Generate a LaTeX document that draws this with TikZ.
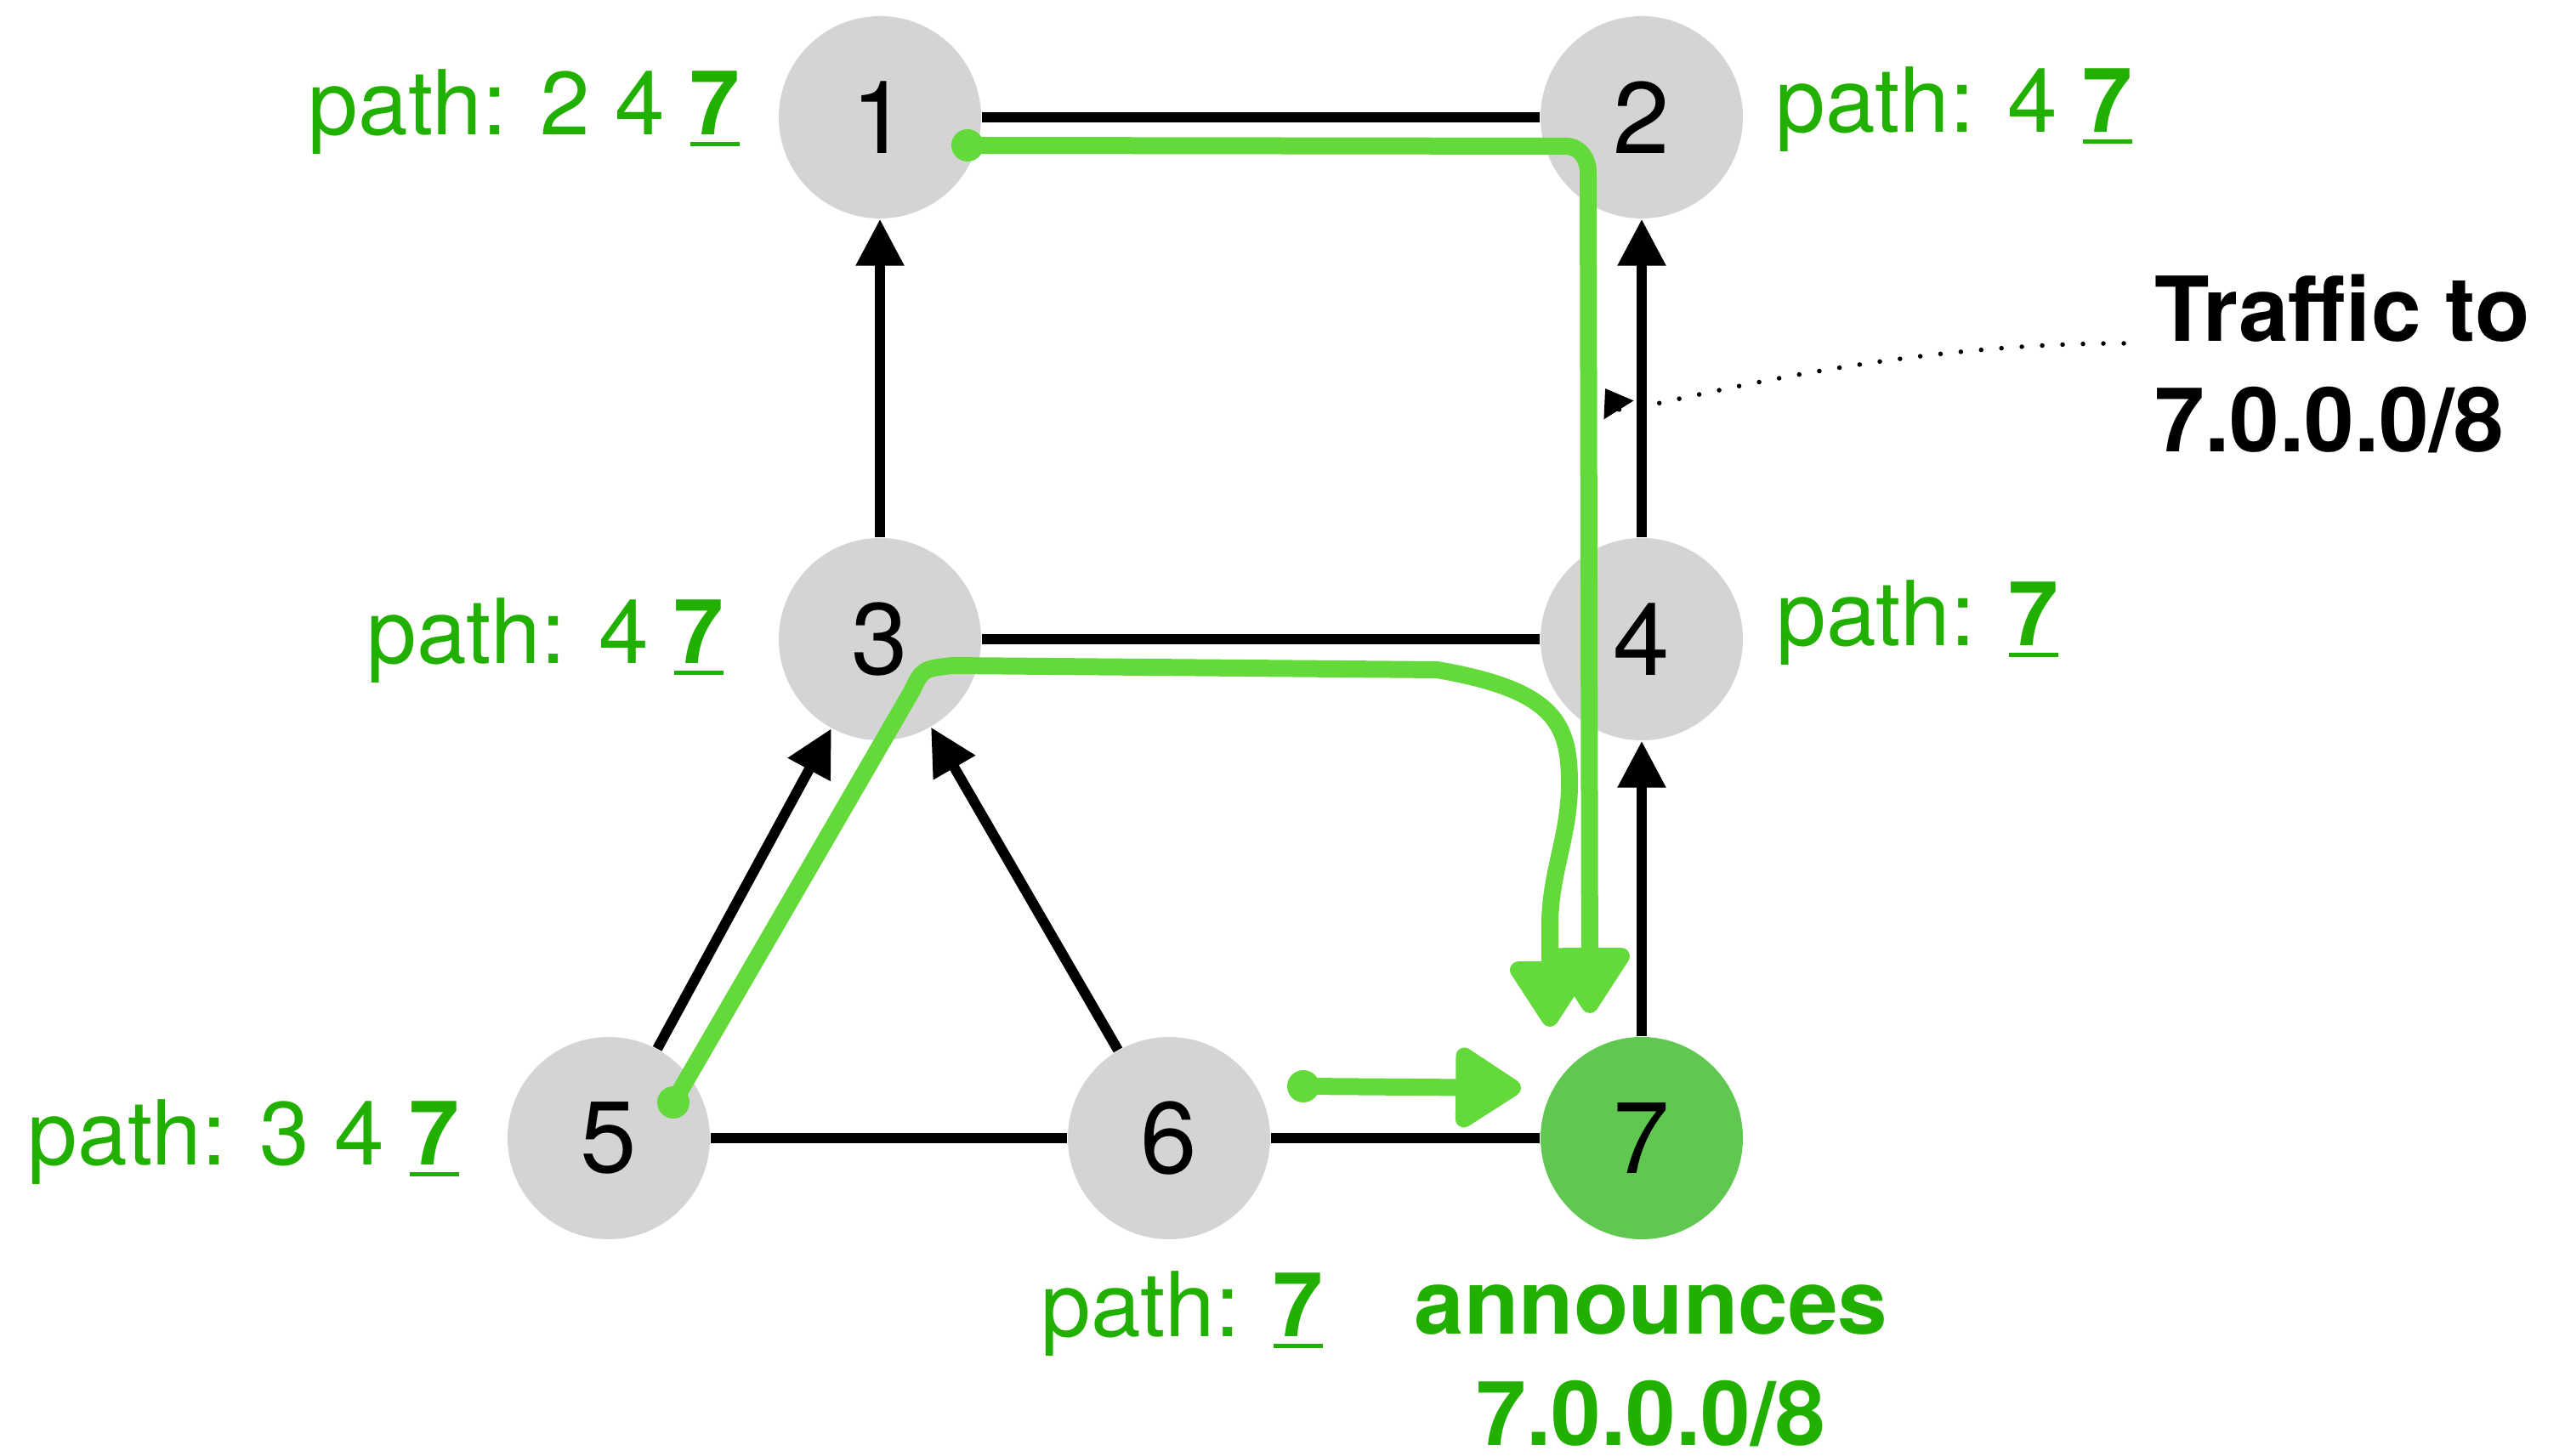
\documentclass[tikz,border=0pt]{standalone}
\usepackage{fontspec}
\setmainfont{TeX Gyre Heros}
\usepackage{tikz}
\usetikzlibrary{arrows.meta, calc}

\definecolor{nodegray}{RGB}{212,212,212}
\definecolor{pathgreen}{RGB}{34,176,0}
\definecolor{announcegreen}{RGB}{96,200,80}
\definecolor{handgreen}{RGB}{99,218,57}

% underlined bold AS number at the end of a path
\newcommand{\destas}[1]{\setbox0=\hbox{\textbf{#1}}\rlap{\rule[-0.13cm]{\wd0}{0.05cm}}\box0}

\begin{document}
\begin{tikzpicture}[
    router/.style={circle, fill=nodegray, minimum size=2.38cm, inner sep=0pt, font=\fontsize{34}{40}\selectfont},
    link/.style={line width=1.2mm},
    route/.style={link, -{Triangle[length=5.5mm, width=5.4mm]}},
    pathlabel/.style={text=pathgreen, inner sep=0pt, font=\fontsize{30}{37}\selectfont},
    annot/.style={inner sep=0pt, font=\fontsize{30}{37}\selectfont\bfseries},
    handdrawn/.style={draw=handgreen, line width=2mm, line cap=round, line join=round,
        -{Triangle[length=8.6mm, width=10.5mm, round]}},
    blob/.style={fill=handgreen}
]
\useasboundingbox (0,0) rectangle (30.17,17.12);

% Routers
\foreach \n/\x/\y in {1/10.35/15.74, 2/19.31/15.74, 3/10.35/9.60, 4/19.31/9.60, 5/7.16/3.73, 6/13.75/3.73}
    \node[router] (r\n) at (\x, \y) {\n};
\node[router, fill=announcegreen] (r7) at (19.31, 3.73) {7};

% Links and route announcements
\foreach \a/\b in {r1/r2, r3/r4, r5/r6, r6/r7}
    \draw[link] (\a) -- (\b);
\foreach \a/\b in {r3/r1, r4/r2, r7/r4, r5/r3, r6/r3}
    \draw[route] (\a) -- (\b);

% AS paths
\node[pathlabel, anchor=base east] (p1) at (8.71, 15.53) {path: 2 4 \destas{7}};
\node[pathlabel, anchor=base west] (p2) at (20.88, 15.56) {path: 4 \destas{7}};
\node[pathlabel, anchor=base east] (p3) at (8.52, 9.31) {path: 4 \destas{7}};
\node[pathlabel, anchor=base west] (p4) at (20.89, 9.52) {path: \destas{7}};
\node[pathlabel, anchor=base east] (p5) at (5.41, 3.41) {path: 3 4 \destas{7}};
\node[pathlabel, anchor=base west] (p6) at (12.24, 1.39) {path: \destas{7}};

% base of a two-line node is the baseline of its last line
\node[annot, text=pathgreen, align=center, anchor=base] (announce) at (19.42, 0.12) {announces\\7.0.0.0/8};
\node[annot, align=left, anchor=base west] (traffic) at (25.34, 11.80) {Traffic to\\7.0.0.0/8};

% Traffic flows
\coordinate (a0) at (11.38, 15.41);
\coordinate (a1) at (18.70, 5.20);
\coordinate (b0) at (7.92, 4.15);
\coordinate (b1) at (18.23, 5.04);
\coordinate (c0) at (15.33, 4.34);
\coordinate (c1) at (17.89, 4.32);

\fill[blob] (a0) circle (1.9mm);
\draw[handdrawn] (a0) -- (18.42, 15.40) to[out=0, in=90] (18.68, 15.10) -- (a1);

\fill[blob] (b0) circle (1.9mm);
\draw[handdrawn] (b0) -- (10.72, 8.98) .. controls (10.85, 9.25) .. (11.20, 9.29)
    -- (16.90, 9.24) .. controls (18.30, 9.00) and (18.46, 8.60) .. (18.46, 7.90)
    .. controls (18.46, 7.30) and (18.25, 6.90) .. (18.23, 6.30) -- (b1);

\fill[blob] (c0) circle (1.9mm);
\draw[handdrawn] (c0) -- (c1);

% Pointer to the traffic
\coordinate (note) at ([xshift=-0.36cm, yshift=1.28cm]traffic.base west);
\coordinate (flow) at (18.88, 12.55);
\draw[line width=0.55mm, line cap=round, dash pattern=on 0pt off 2.4mm, -{Triangle[length=3mm, width=4mm]}]
    (note) .. controls (21.8, 13.08) and (19.1, 12.2) .. (flow);

\end{tikzpicture}
\end{document}
